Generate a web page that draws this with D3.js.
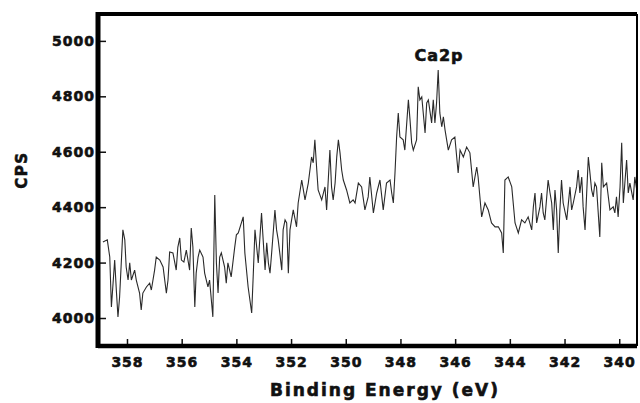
<!DOCTYPE html>
<html>
<head>
<meta charset="utf-8">
<script src="https://cdn.jsdelivr.net/npm/d3@7"></script>
<style>
  html, body { margin: 0; padding: 0; background: #fff; }
  svg text { font-family: "DejaVu Sans", sans-serif; font-weight: bold; fill: #111; stroke: #111; stroke-width: 0.6px; }
</style>
</head>
<body>
<div id="chart"></div>
<script>
// Binding energy (eV)
const bindingEnergy = [
  358.88, 358.72, 358.63, 358.57, 358.45, 358.39, 358.33, 358.27, 358.15, 358.08,
  358.03, 357.96, 357.90, 357.84, 357.72, 357.66, 357.54, 357.48, 357.42, 357.29,
  357.17, 357.11, 356.99, 356.93, 356.80, 356.68, 356.56, 356.50, 356.44, 356.32,
  356.20, 356.14, 356.07, 356.01, 355.92, 355.83, 355.77, 355.71, 355.65, 355.59,
  355.52, 355.47, 355.40, 355.34, 355.22, 355.16, 355.10, 355.04, 354.98, 354.86,
  354.79, 354.73, 354.67, 354.61, 354.55, 354.43, 354.37, 354.31, 354.19, 354.06,
  354.00, 353.93, 353.75, 353.69, 353.57, 353.44, 353.38, 353.32, 353.20, 353.08,
  353.02, 352.95, 352.89, 352.83, 352.77, 352.71, 352.59, 352.53, 352.47, 352.34,
  352.29, 352.22, 352.16, 352.10, 352.04, 351.92, 351.80, 351.74, 351.61, 351.49,
  351.37, 351.25, 351.19, 351.13, 351.06, 351.01, 350.88, 350.76, 350.70, 350.58,
  350.52, 350.46, 350.39, 350.33, 350.27, 350.21, 350.15, 350.09, 349.97, 349.85,
  349.73, 349.66, 349.54, 349.42, 349.30, 349.18, 349.12, 348.99, 348.87, 348.75,
  348.63, 348.51, 348.38, 348.32, 348.26, 348.20, 348.14, 348.08, 348.02, 347.90,
  347.84, 347.71, 347.65, 347.59, 347.53, 347.41, 347.35, 347.29, 347.22, 347.10,
  347.04, 346.98, 346.86, 346.80, 346.74, 346.68, 346.62, 346.56, 346.49, 346.43,
  346.37, 346.25, 346.13, 346.01, 345.89, 345.82, 345.70, 345.58, 345.46, 345.34,
  345.21, 345.16, 345.03, 344.91, 344.79, 344.67, 344.54, 344.42, 344.30, 344.24,
  344.18, 344.06, 343.93, 343.81, 343.69, 343.57, 343.45, 343.33, 343.20, 343.14,
  343.08, 343.02, 342.90, 342.84, 342.78, 342.72, 342.60, 342.53, 342.47, 342.41,
  342.35, 342.29, 342.23, 342.17, 342.11, 342.05, 341.92, 341.80, 341.74, 341.68,
  341.56, 341.50, 341.44, 341.37, 341.32, 341.25, 341.19, 341.13, 341.07, 341.01,
  340.95, 340.89, 340.83, 340.71, 340.64, 340.58, 340.46, 340.34, 340.22, 340.16,
  340.10, 340.04, 339.97, 339.91, 339.85, 339.73, 339.67, 339.61, 339.49, 339.43,
  339.36
];

// Counts per second at each energy
const cps = [
  4274, 4282, 4220, 4040, 4209, 4101, 4004, 4076, 4318, 4282,
  4184, 4137, 4199, 4137, 4173, 4137, 4090, 4029, 4090, 4112,
  4126, 4101, 4173, 4220, 4209, 4184, 4090, 4137, 4238, 4235,
  4173, 4256, 4289, 4209, 4202, 4245, 4209, 4173, 4325, 4256,
  4040, 4162, 4220, 4245, 4220, 4162, 4137, 4112, 4137, 4004,
  4444, 4199, 4090, 4220, 4235, 4184, 4126, 4199, 4148, 4256,
  4300, 4307, 4365, 4235, 4112, 4018, 4162, 4318, 4199, 4379,
  4282, 4173, 4271, 4199, 4162, 4235, 4390, 4318, 4282, 4173,
  4318, 4354, 4343, 4162, 4318, 4390, 4329, 4415, 4498, 4426,
  4487, 4581, 4560, 4643, 4534, 4462, 4426, 4473, 4390, 4606,
  4473, 4426, 4487, 4581, 4643, 4596, 4534, 4498, 4462, 4415,
  4426, 4415, 4487, 4473, 4390, 4437, 4509, 4379, 4451, 4498,
  4390, 4487, 4498, 4451, 4415, 4523, 4653, 4740, 4653, 4643,
  4606, 4787, 4715, 4632, 4606, 4643, 4834, 4787, 4798, 4668,
  4776, 4787, 4704, 4787, 4704, 4776, 4895, 4740, 4690, 4726,
  4679, 4606, 4643, 4653, 4523, 4606, 4581, 4617, 4596, 4473,
  4545, 4509, 4365, 4415, 4390, 4343, 4329, 4329, 4307, 4235,
  4498, 4509, 4473, 4343, 4307, 4354, 4343, 4365, 4318, 4401,
  4451, 4343, 4401, 4451, 4379, 4354, 4498, 4451, 4415, 4318,
  4462, 4390, 4235, 4390, 4498, 4415, 4354, 4473, 4390, 4415,
  4473, 4534, 4451, 4509, 4401, 4318, 4451, 4581, 4523, 4462,
  4437, 4487, 4473, 4292, 4560, 4473, 4487, 4390, 4401, 4379,
  4437, 4365, 4473, 4632, 4415, 4570, 4451, 4487, 4426, 4509,
  4462
];

const xTicks = [358, 356, 354, 352, 350, 348, 346, 344, 342, 340];
const yTicks = [4000, 4200, 4400, 4600, 4800, 5000];

const width = 640;
const height = 403;
const margin = { top: 14, right: 3, bottom: 57, left: 98 };

const svg = d3
  .select("#chart")
  .append("svg")
  .attr("width", width)
  .attr("height", height);

// energy axis runs high to low
const x = d3
  .scaleLinear()
  .domain([359.06, 339.35])
  .range([margin.left, width - margin.right]);

const y = d3
  .scaleLinear()
  .domain([3899, 5097])
  .range([height - margin.bottom, margin.top]);

// Spectrum trace
const line = d3
  .line()
  .x((d, i) => x(bindingEnergy[i]))
  .y((d) => y(d));

svg
  .append("path")
  .datum(cps)
  .attr("fill", "none")
  .attr("stroke", "#2a2a2a")
  .attr("stroke-width", 1.1)
  .attr("d", line);

// Axes, ticks pointing inside
const xAxis = svg
  .append("g")
  .attr("transform", `translate(0,${height - margin.bottom})`)
  .call(d3.axisBottom(x).tickValues(xTicks).tickSizeInner(-7).tickSizeOuter(0).tickPadding(11));

const yAxis = svg
  .append("g")
  .attr("transform", `translate(${margin.left},0)`)
  .call(d3.axisLeft(y).tickValues(yTicks).tickFormat(d3.format("d")).tickSizeInner(-8).tickSizeOuter(0).tickPadding(3));

[xAxis, yAxis].forEach((g) => {
  g.select(".domain").remove();
  g.selectAll(".tick line").attr("stroke", "#111").attr("stroke-width", 1.5);
  g.selectAll(".tick text")
    .attr("font-size", 14)
    .attr("fill", "#111")
    .style("letter-spacing", "1px");
});

// Frame
const fx0 = margin.left, fx1 = width - margin.right;
const fy0 = margin.top, fy1 = height - margin.bottom;
svg.append("line").attr("x1", fx0).attr("x2", fx0).attr("y1", fy0 - 2).attr("y2", fy1 + 2)
  .attr("stroke", "#000").attr("stroke-width", 5);
svg.append("line").attr("x1", fx0).attr("x2", fx1).attr("y1", fy1).attr("y2", fy1)
  .attr("stroke", "#000").attr("stroke-width", 4.5);
svg.append("line").attr("x1", fx0).attr("x2", fx1).attr("y1", fy0).attr("y2", fy0)
  .attr("stroke", "#000").attr("stroke-width", 4);
svg.append("line").attr("x1", fx1).attr("x2", fx1).attr("y1", fy0).attr("y2", fy1)
  .attr("stroke", "#000").attr("stroke-width", 2);

// Labels
svg
  .append("text")
  .attr("x", 385)
  .attr("y", 396)
  .attr("text-anchor", "middle")
  .attr("font-size", 17)
  .style("letter-spacing", "2px")
  .text("Binding Energy (eV)");

svg
  .append("text")
  .attr("transform", "translate(27,170) rotate(-90)")
  .attr("text-anchor", "middle")
  .attr("font-size", 15)
  .style("letter-spacing", "1.5px")
  .text("CPS");

svg
  .append("text")
  .attr("x", 439)
  .attr("y", 61)
  .attr("text-anchor", "middle")
  .attr("font-size", 16)
  .style("letter-spacing", "1px")
  .text("Ca2p");
</script>
</body>
</html>
